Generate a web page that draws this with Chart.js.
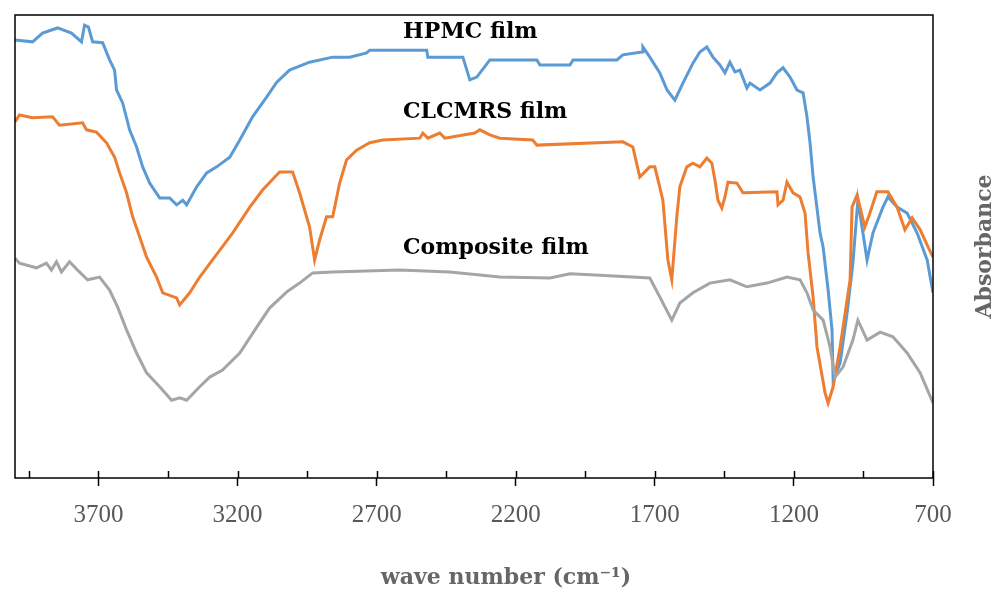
<!DOCTYPE html>
<html>
<head>
<meta charset="utf-8">
<title>FTIR spectra</title>
<script src="https://cdn.jsdelivr.net/npm/chart.js@4.4.1/dist/chart.umd.min.js"></script>
<style>
  html, body { margin: 0; padding: 0; background: #fff; }
</style>
</head>
<body>
<canvas id="ftir-chart" width="1003" height="592"></canvas>
<script>
// spectra (wave number in cm-1, absorbance in arbitrary units)
const hpmcWave = [4000,3937,3901,3847,3797,3761,3750,3736,3721,3685,3660,3642,3635,3613,3588,3563,3541,3516,3480,3444,3419,3397,3383,3347,3311,3275,3228,3192,3146,3095,3059,3013,2941,2858,2797,2736,2725,2520,2516,2390,2365,2340,2293,2124,2113,2005,1994,1836,1815,1746,1743,1718,1682,1656,1628,1599,1563,1538,1513,1491,1466,1448,1430,1412,1394,1369,1358,1322,1286,1261,1239,1214,1189,1167,1153,1142,1131,1106,1095,1077,1063,1059,1034,1009,988,970,937,916,880,862,829,793,757,721,700];
const hpmcAbs = [94.6,94.2,96.1,97.2,96.1,94.2,97.8,97.4,94.2,94.0,90.3,88.1,83.8,81.0,75.2,71.5,67.2,63.7,60.5,60.5,59.0,60.0,59.0,62.9,65.9,67.2,69.3,73.0,78.0,82.3,85.5,88.1,89.8,90.9,90.9,91.8,92.4,92.4,90.9,90.9,86.0,86.6,90.3,90.3,89.2,89.2,90.3,90.3,91.4,92.0,93.1,90.9,87.5,83.8,81.6,85.3,89.6,92.0,93.1,90.9,89.2,87.5,89.8,87.7,88.1,84.2,85.3,83.8,85.3,87.5,88.6,86.6,83.8,83.2,78.0,72.4,65.0,52.9,49.9,40.6,32.0,21.2,24.8,35.6,46.4,60.0,47.1,52.9,58.5,60.7,58.5,57.2,52.9,47.1,40.0];

const clcmrsWave = [4000,3984,3937,3865,3840,3757,3743,3707,3671,3642,3624,3599,3577,3552,3527,3491,3469,3419,3408,3372,3336,3290,3218,3156,3110,3049,3002,2977,2941,2923,2905,2880,2858,2833,2808,2772,2725,2678,2545,2534,2516,2473,2455,2347,2329,2293,2257,2139,2124,1815,1779,1754,1718,1700,1671,1653,1639,1621,1610,1585,1563,1538,1513,1495,1484,1473,1459,1448,1437,1405,1383,1261,1257,1239,1225,1203,1178,1160,1149,1131,1117,1088,1077,1059,1034,998,991,973,945,927,902,862,829,801,775,746,718,700];
const clcmrsAbs = [76.9,78.4,77.8,78.0,76.2,76.7,75.2,74.7,72.4,69.3,65.9,61.6,56.4,52.1,47.7,43.4,40.0,38.9,37.4,40.0,43.4,47.1,52.9,58.5,62.2,66.1,66.1,61.6,54.2,47.1,51.4,56.4,56.4,63.7,68.7,70.8,72.4,73.0,73.4,74.5,73.4,74.5,73.4,74.5,75.2,74.1,73.4,73.0,71.9,72.6,71.5,65.0,67.2,67.2,60.0,47.1,42.8,56.4,62.9,67.2,68.0,67.2,69.1,68.0,64.4,60.0,58.3,60.7,63.9,63.7,61.6,61.8,59.0,60.0,63.9,61.6,60.7,57.2,48.6,39.1,28.3,18.4,16.2,19.7,28.3,42.8,58.5,61.1,54.2,57.2,61.8,61.8,58.5,53.6,56.2,53.6,49.9,47.7];

const compWave = [4000,3984,3923,3887,3869,3851,3833,3804,3775,3739,3696,3660,3631,3599,3563,3527,3480,3437,3408,3383,3336,3300,3254,3192,3131,3085,3023,2977,2930,2858,2617,2437,2257,2077,2005,1897,1718,1682,1639,1610,1563,1502,1430,1369,1297,1225,1178,1153,1131,1095,1070,1052,1023,988,970,937,890,844,793,746,700];
const compAbs = [47.5,46.4,45.4,46.4,44.9,46.7,44.5,46.7,44.9,42.8,43.4,40.6,36.9,32.0,27.0,22.7,19.7,16.8,17.3,16.8,19.7,21.8,23.3,27.0,32.6,36.7,40.2,42.1,44.3,44.5,44.9,44.5,43.4,43.2,44.1,43.8,43.2,39.1,34.1,37.8,40.0,42.1,42.8,41.3,42.1,43.4,42.8,40.0,36.3,34.1,28.3,21.8,24.0,29.8,34.1,29.8,31.5,30.5,27.0,22.7,16.2];

const tickWaves = [700,950,1200,1450,1700,1950,2200,2450,2700,2950,3200,3450,3700,3950];
const tickLabels = [700,1200,1700,2200,2700,3200,3700];

const seriesNames = ["HPMC film", "CLCMRS film", "Composite film"];
const seriesColors = ["#5B9BD5", "#ED7D31", "#A5A5A5"];
// where the series names sit (left edge, in data units)
const labelWave = [2605, 2605, 2605];
const labelAbs = [96.3, 79.0, 49.7];

function toPoints(waves, abs) {
  return waves.map((w, i) => ({ x: w, y: abs[i] }));
}

// box, inner tick marks, series names and axis titles
const decorations = {
  id: "decorations",
  afterDraw(chart) {
    const ctx = chart.ctx;
    const area = chart.chartArea;
    const xs = chart.scales.x;
    const ys = chart.scales.y;
    ctx.save();
    ctx.strokeStyle = "#000";
    ctx.lineWidth = 1.5;
    ctx.strokeRect(area.left, area.top, area.right - area.left, area.bottom - area.top);

    ctx.lineWidth = 1.5;
    tickWaves.forEach(v => {
      const px = Math.round(xs.getPixelForValue(v)) + 0.5;
      ctx.beginPath();
      ctx.moveTo(px, area.bottom);
      ctx.lineTo(px, area.bottom - 7);
      ctx.stroke();
    });

    ctx.fillStyle = "#000";
    ctx.font = "bold 22px 'DejaVu Serif'";
    ctx.textAlign = "left";
    ctx.textBaseline = "middle";
    seriesNames.forEach((name, i) => {
      ctx.fillText(name, xs.getPixelForValue(labelWave[i]), ys.getPixelForValue(labelAbs[i]));
    });

    ctx.fillStyle = "#666";
    ctx.font = "bold 22px 'DejaVu Serif'";
    ctx.textAlign = "center";
    ctx.fillText("wave number (cm\u207B\u00B9)", 506, 578);

    ctx.translate(985, (area.top + area.bottom) / 2);
    ctx.rotate(-Math.PI / 2);
    ctx.fillText("Absorbance", 0, 0);
    ctx.restore();
  }
};

function buildChart() {
  const ctx = document.getElementById("ftir-chart").getContext("2d");
  new Chart(ctx, {
    type: "scatter",
    data: {
      datasets: [
        { label: seriesNames[0], data: toPoints(hpmcWave, hpmcAbs), order: 3 },
        { label: seriesNames[1], data: toPoints(clcmrsWave, clcmrsAbs), order: 2 },
        { label: seriesNames[2], data: toPoints(compWave, compAbs), order: 1 }
      ].map((d, i) => Object.assign(d, {
        showLine: true,
        borderColor: seriesColors[i],
        backgroundColor: seriesColors[i],
        borderWidth: 3,
        pointRadius: 0,
        tension: 0
      }))
    },
    options: {
      responsive: false,
      animation: false,
      layout: { padding: { left: 15, top: 15 } },
      plugins: {
        legend: { display: false },
        tooltip: { enabled: false }
      },
      scales: {
        x: {
          type: "linear",
          reverse: true,
          min: 700,
          max: 4000,
          afterBuildTicks: s => { s.ticks = tickWaves.map(v => ({ value: v })); },
          afterFit: s => { s.height = 114; },
          border: { display: false },
          grid: {
            drawOnChartArea: false,
            tickLength: 8,
            tickWidth: 1.5,
            tickColor: c => tickLabels.includes(c.tick.value) ? "#000" : "rgba(0,0,0,0)"
          },
          ticks: {
            autoSkip: false,
            maxRotation: 0,
            padding: 14,
            color: "#595959",
            font: { family: "'Liberation Serif'", size: 25 },
            callback: v => tickLabels.includes(v) ? String(v) : ""
          }
        },
        y: {
          position: "right",
          min: 0,
          max: 100,
          afterFit: s => { s.width = 70; },
          border: { display: false },
          grid: { display: false },
          ticks: { display: false }
        }
      }
    },
    plugins: [decorations]
  });
}

document.addEventListener("DOMContentLoaded", buildChart);
</script>
</body>
</html>
